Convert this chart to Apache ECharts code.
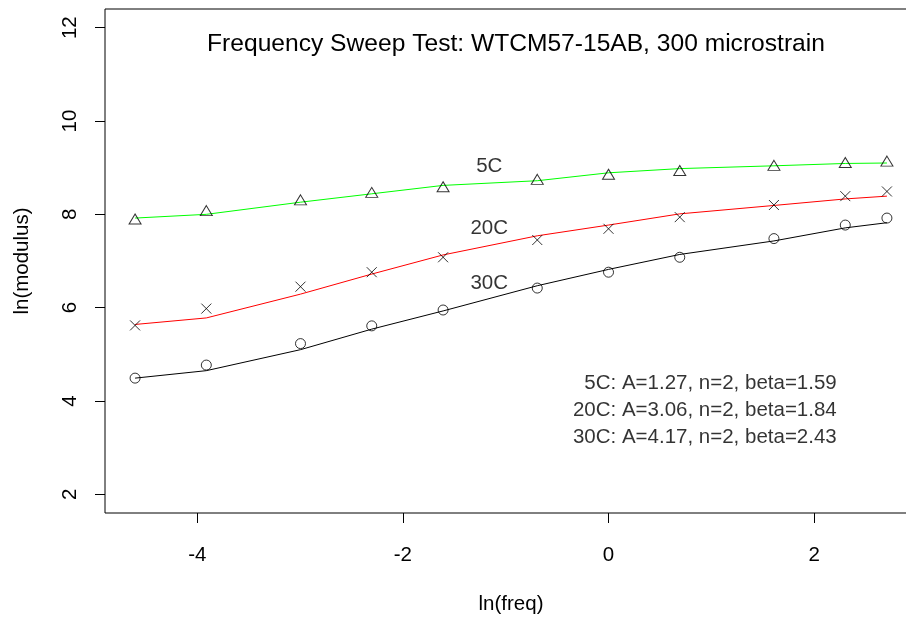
<!DOCTYPE html>
<html><head><meta charset="utf-8">
<script src="https://cdn.jsdelivr.net/npm/echarts@6/dist/echarts.min.js"></script>
<style>html,body{margin:0;padding:0;background:#fff}#c{width:906px;height:621px}</style>
</head><body><div id="c"></div>
<script>
// ---- data ----
const lnFreq = [-4.605, -3.912, -2.996, -2.303, -1.609, -0.693, 0, 0.693, 1.609, 2.303, 2.708];
const obs5C  = [7.90, 8.08, 8.31, 8.47, 8.59, 8.75, 8.86, 8.94, 9.05, 9.11, 9.14];
const fit5C  = [7.92, 8.00, 8.26, 8.44, 8.62, 8.72, 8.89, 8.98, 9.04, 9.09, 9.10];
const obs20C = [5.62, 5.98, 6.45, 6.76, 7.08, 7.45, 7.69, 7.94, 8.20, 8.39, 8.49];
const fit20C = [5.64, 5.78, 6.29, 6.72, 7.13, 7.54, 7.77, 8.01, 8.19, 8.33, 8.39];
const obs30C = [4.49, 4.77, 5.23, 5.61, 5.95, 6.42, 6.76, 7.08, 7.48, 7.77, 7.92];
const fit30C = [4.49, 4.65, 5.10, 5.54, 5.93, 6.47, 6.82, 7.14, 7.43, 7.71, 7.82];
const xTicks = [-4, -2, 0, 2];
const yTicks = [2, 4, 6, 8, 10, 12];
const curveNames = ['5C', '20C', '30C'];
const curveLabelX = [-1.16, -1.16, -1.16];
const curveLabelY = [9.02, 7.69, 6.53];
const noteLines = ['5C: A=1.27, n=2, beta=1.59', '20C: A=3.06, n=2, beta=1.84', '30C: A=4.17, n=2, beta=2.43'];
const noteX = 2.22;
const noteY = [4.38, 3.80, 3.23];
const titleText = 'Frequency Sweep Test: WTCM57-15AB, 300 microstrain';

// ---- helpers ----
const pair = (ys) => lnFreq.map((x, i) => [x, ys[i]]);
const FONT = '"Liberation Sans", Arial, Helvetica, sans-serif';
const BASE = 20.5;
const xMin = -4.605, xMax = 2.708, yLo = 2, yHi = 12;
const xPad = (xMax - xMin) * 0.04, yPad = (yHi - yLo) * 0.04;

const hollow = { color: 'rgba(0,0,0,0)', borderColor: '#000', borderWidth: 1 };
function fitLine(ys, color) {
  return { type: 'line', data: pair(ys), symbol: 'none', silent: true,
    lineStyle: { color: color, width: 1 }, z: 2 };
}
function points(ys, symbol, size, offset) {
  return { type: 'scatter', data: pair(ys), symbol: symbol, symbolSize: size,
    symbolOffset: offset || [0, 0], itemStyle: hollow, silent: true, z: 3 };
}

const chart = echarts.init(document.getElementById('c'), null, { renderer: 'canvas' });
chart.setOption({
  animation: false,
  backgroundColor: '#fff',
  textStyle: { fontFamily: FONT },
  title: {
    text: titleText, left: 511, top: 27, textAlign: 'center',
    textStyle: { fontFamily: FONT, fontSize: 24.6, fontWeight: 'normal', color: '#000' }
  },
  grid: { left: 105, top: 9, width: 812, height: 504, show: true,
    outerBoundsMode: 'none', containLabel: false,
    borderColor: '#000', borderWidth: 1, backgroundColor: 'transparent' },
  xAxis: {
    type: 'value', min: xMin - xPad, max: xMax + xPad,
    name: 'ln(freq)', nameLocation: 'middle', nameGap: 81,
    nameTextStyle: { fontFamily: FONT, fontSize: BASE, color: '#000' },
    axisLine: { show: false, onZero: false },
    splitLine: { show: false },
    axisTick: { show: true, inside: false, length: 10, customValues: xTicks,
      lineStyle: { color: '#000', width: 1 } },
    axisLabel: { show: true, customValues: xTicks, margin: 32,
      fontFamily: FONT, fontSize: BASE, color: '#000' }
  },
  yAxis: {
    type: 'value', min: yLo - yPad, max: yHi + yPad,
    name: 'ln(modulus)', nameLocation: 'middle', nameGap: 72, nameRotate: 90,
    nameTextStyle: { fontFamily: FONT, fontSize: BASE, color: '#000' },
    axisLine: { show: false, onZero: false },
    splitLine: { show: false },
    axisTick: { show: true, inside: false, length: 10, customValues: yTicks,
      lineStyle: { color: '#000', width: 1 } },
    axisLabel: { show: true, customValues: yTicks, rotate: 90, margin: 24,
      fontFamily: FONT, fontSize: BASE, color: '#000' }
  },
  series: [
    fitLine(fit5C, '#00ff00'),
    fitLine(fit20C, '#ff0000'),
    fitLine(fit30C, '#000000'),
    points(obs5C, 'triangle', [12, 10]),
    points(obs20C, 'path://M0,0L10,10M10,0L0,10', [10, 10]),
    points(obs30C, 'circle', 10),
    { type: 'scatter', symbolSize: 0, silent: true, z: 4,
      data: curveNames.map((n, i) => ({ name: n, value: [curveLabelX[i], curveLabelY[i]] })),
      label: { show: true, position: 'inside', formatter: '{b}',
        fontFamily: FONT, fontSize: BASE, color: '#000' } },
    { type: 'scatter', symbolSize: 0, silent: true, z: 4,
      data: noteLines.map((t, i) => ({ name: t, value: [noteX, noteY[i]] })),
      label: { show: true, position: 'left', distance: 0, formatter: '{b}',
        fontFamily: FONT, fontSize: BASE, color: '#000' } }
  ]
});
</script>
</body></html>
